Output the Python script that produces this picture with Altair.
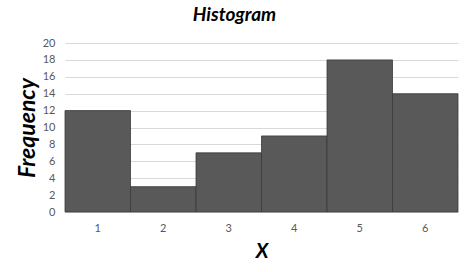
import altair as alt
import pandas as pd

categories = ["1", "2", "3", "4", "5", "6"]
frequency = [12, 3, 7, 9, 18, 14]

df = pd.DataFrame({"X": categories, "Frequency": frequency})

FONT = "Lato"

chart = alt.Chart(df).mark_bar(
    color="#595959", stroke="#3a3a3a", strokeWidth=0.8
).encode(
    x=alt.X("X:O", sort=categories,
            scale=alt.Scale(paddingInner=0, paddingOuter=0),
            axis=alt.Axis(title="X", labelAngle=0, ticks=False, tickSize=0,
                          labelPadding=10, labelFontSize=11, labelColor="#595959",
                          labelFont=FONT, domain=True, domainColor="#d9d9d9",
                          titleFont=FONT, titleFontSize=20, titleFontWeight="bold",
                          titleFontStyle="italic", titleColor="#000000",
                          titleY=39, titleBaseline="middle")),
    y=alt.Y("Frequency:Q", scale=alt.Scale(domain=[0, 20]),
            axis=alt.Axis(title="Frequency", values=list(range(0, 21, 2)),
                          ticks=False, domain=False, labelPadding=10,
                          labelFontSize=11, labelColor="#595959", labelFont=FONT,
                          gridColor="#d9d9d9", titleFont=FONT, titleFontSize=23,
                          titleFontWeight="bold", titleFontStyle="italic",
                          titleColor="#000000", titleX=-38, titleY=84.5,
                          titleAngle=-90, titleAlign="center",
                          titleBaseline="middle")),
).properties(
    width=393, height=169,
    title=alt.TitleParams("Histogram", font=FONT, fontSize=19, fontWeight="bold",
                          fontStyle="italic", color="#000000", anchor="middle",
                          frame="group", dx=-27, offset=12),
    autosize=alt.AutoSizeParams(type="none"),
    padding={"left": 65, "top": 43, "right": 10, "bottom": 60},
).configure_view(stroke=None)

chart.save("out.html", embed_options={"renderer": "svg", "actions": False})
